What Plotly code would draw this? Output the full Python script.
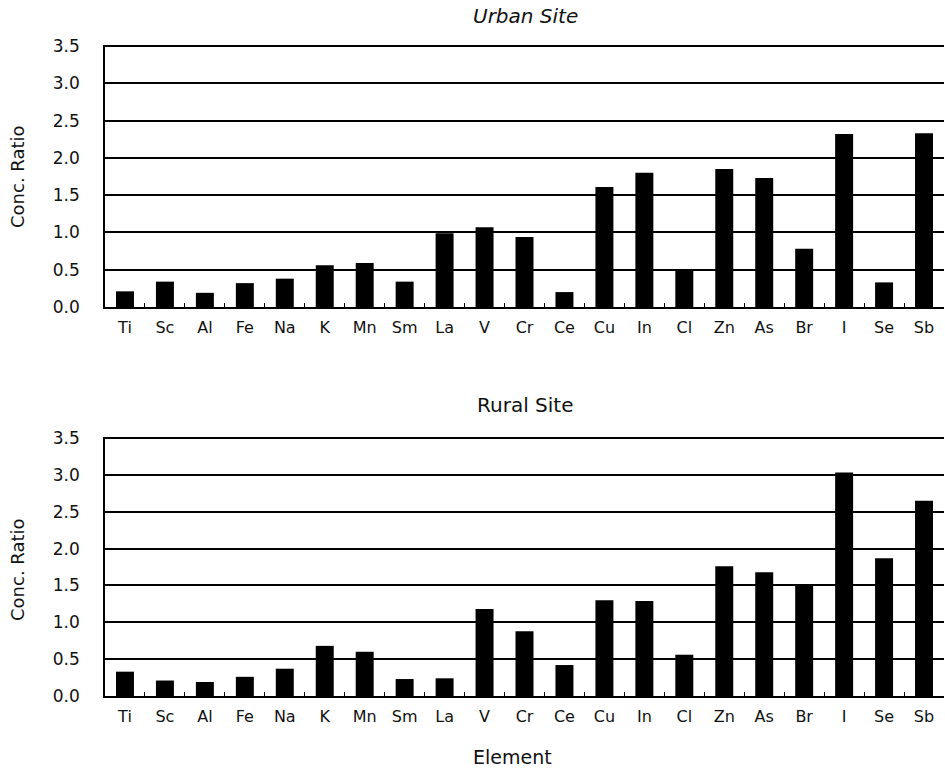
import plotly.graph_objects as go

elements = ["Ti", "Sc", "Al", "Fe", "Na", "K", "Mn", "Sm", "La", "V", "Cr", "Ce",
            "Cu", "In", "Cl", "Zn", "As", "Br", "I", "Se", "Sb"]
urban = [0.21, 0.34, 0.19, 0.32, 0.38, 0.56, 0.59, 0.34, 0.99, 1.07, 0.94, 0.20,
         1.61, 1.80, 0.50, 1.85, 1.73, 0.78, 2.32, 0.33, 2.33]
rural = [0.33, 0.21, 0.19, 0.26, 0.37, 0.68, 0.60, 0.23, 0.24, 1.18, 0.88, 0.42,
         1.30, 1.29, 0.56, 1.76, 1.68, 1.52, 3.03, 1.87, 2.65]
y_ticks = [0.0, 0.5, 1.0, 1.5, 2.0, 2.5, 3.0, 3.5]

W, H = 945, 770
ML, MR, MT, MB = 105, 1, 44, 74
PH = H - MT - MB
FAM = "DejaVu Sans, Liberation Sans, Arial, sans-serif"


def py(p):
    return (H - MB - p) / PH


def px(p):
    return (p - ML) / (W - ML - MR)


fig = go.Figure()
fig.add_trace(go.Bar(x=elements, y=urban, marker=dict(color="black", line=dict(width=0)),
                     xaxis="x", yaxis="y", showlegend=False))
fig.add_trace(go.Bar(x=elements, y=rural, marker=dict(color="black", line=dict(width=0)),
                     xaxis="x2", yaxis="y2", showlegend=False))

yax = dict(range=[0, 3.52], tickvals=y_ticks, ticktext=[f"{v:.1f}" for v in y_ticks],
           showgrid=True, gridcolor="black", gridwidth=1.6, zeroline=False,
           showline=True, linecolor="black", linewidth=1.6, ticks="",
           ticklabelstandoff=20, automargin=False,
           tickfont=dict(size=17, family=FAM, color="#111"), fixedrange=True)
xax = dict(type="category", showline=True, linecolor="black", linewidth=2,
           ticks="inside", tickson="boundaries", ticklen=4, tickcolor="black",
           tickwidth=1, showgrid=False, automargin=False,
           tickfont=dict(size=16, family=FAM, color="#111"),
           ticklabelstandoff=5, fixedrange=True)

ann = [
    dict(text="<i>Urban Site</i>", x=px(525), y=py(16), size=20),
    dict(text="Rural Site", x=px(525), y=py(405), size=20),
    dict(text="Conc. Ratio", x=px(17), y=py(177), size=18, angle=-90),
    dict(text="Conc. Ratio", x=px(17), y=py(570), size=18, angle=-90),
    dict(text="Element", x=px(512), y=py(757), size=19),
]

fig.update_layout(
    width=W, height=H,
    margin=dict(l=ML, r=MR, t=MT, b=MB),
    paper_bgcolor="white", plot_bgcolor="white",
    font=dict(family=FAM, size=16, color="#111"),
    bargap=0.55,
    hovermode=False,
    xaxis=dict(xax, domain=[0, 1], anchor="y"),
    yaxis=dict(yax, domain=[py(307), py(44.5)], anchor="x"),
    xaxis2=dict(xax, domain=[0, 1], anchor="y2"),
    yaxis2=dict(yax, domain=[0, py(436.5)], anchor="x2"),
    annotations=[dict(text=a["text"], x=a["x"], y=a["y"], xref="paper", yref="paper",
                      showarrow=False, xanchor="center", yanchor="middle",
                      textangle=a.get("angle", 0),
                      font=dict(size=a["size"], family=FAM, color="#111")) for a in ann],
)

fig.write_html("out.html", config={"displayModeBar": False},
               post_script="document.body.style.margin='0px';document.body.style.overflow='hidden';")
